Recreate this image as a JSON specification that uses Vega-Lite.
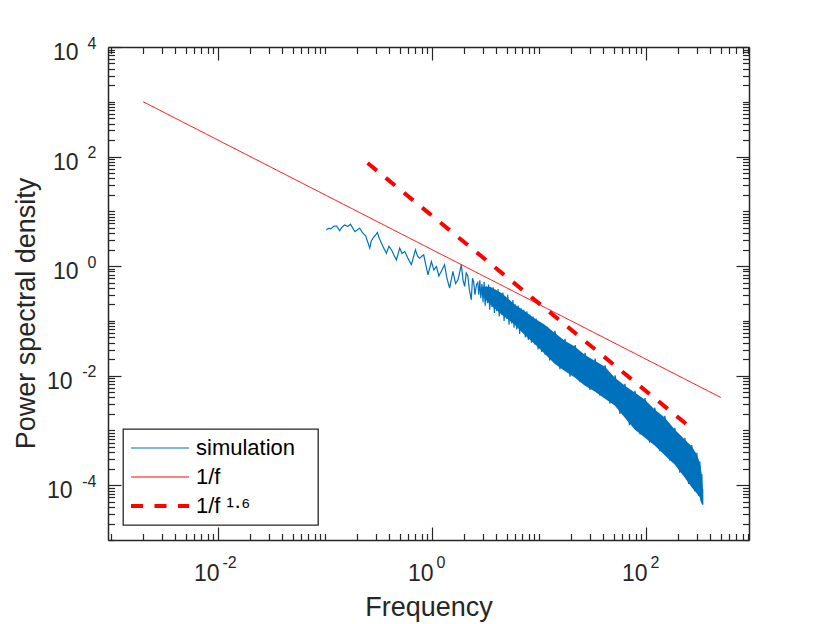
{
  "$schema": "https://vega.github.io/schema/vega-lite/v6.json",
  "width": 641,
  "height": 493,
  "autosize": {"type": "none"},
  "padding": {"left": 108, "top": 47, "right": 82, "bottom": 84},
  "background": "white",
  "config": {
    "view": {"stroke": null},
    "font": "Liberation Sans",
    "legend": {
      "orient": "bottom-left",
      "offset": 15,
      "padding": 6,
      "strokeColor": "#262626",
      "strokeWidth": 1.3,
      "fillColor": "white",
      "symbolType": "stroke",
      "symbolSize": 3364,
      "clipHeight": 26,
      "rowPadding": 3,
      "labelFont": "Liberation Sans",
      "labelFontSize": 22,
      "labelColor": "#000000",
      "labelOffset": 5,
      "labelLimit": 300
    }
  },
  "datasets": {
    "band": [
      {"f": 2.9, "lo": 0.30, "hi": 0.42},
      {"f": 3.5, "lo": 0.20, "hi": 0.42},
      {"f": 4.5, "lo": 0.13, "hi": 0.32},
      {"f": 5.93, "lo": 0.085, "hi": 0.20},
      {"f": 7.35, "lo": 0.055, "hi": 0.15},
      {"f": 9.12, "lo": 0.038, "hi": 0.11},
      {"f": 11.3, "lo": 0.0252, "hi": 0.0853},
      {"f": 14.0, "lo": 0.0165, "hi": 0.0610},
      {"f": 17.4, "lo": 0.0122, "hi": 0.0436},
      {"f": 21.6, "lo": 0.00924, "hi": 0.0339},
      {"f": 26.7, "lo": 0.00661, "hi": 0.0242},
      {"f": 33.2, "lo": 0.00513, "hi": 0.0188},
      {"f": 41.1, "lo": 0.00383, "hi": 0.0147},
      {"f": 51.0, "lo": 0.00285, "hi": 0.00923},
      {"f": 63.2, "lo": 0.00173, "hi": 0.00661},
      {"f": 78.4, "lo": 0.00104, "hi": 0.00492},
      {"f": 97.2, "lo": 0.000745, "hi": 0.00367},
      {"f": 120.5, "lo": 0.000533, "hi": 0.00241},
      {"f": 149.6, "lo": 0.000351, "hi": 0.00173},
      {"f": 185.4, "lo": 0.000240, "hi": 0.00104},
      {"f": 230, "lo": 0.000139, "hi": 0.000686},
      {"f": 267, "lo": 0.0000916, "hi": 0.000512},
      {"f": 298, "lo": 0.0000712, "hi": 0.000366},
      {"f": 318, "lo": 0.0000601, "hi": 0.000261},
      {"f": 332, "lo": 0.0000449, "hi": 0.000158},
      {"f": 339, "lo": 0.0000449, "hi": 0.0000841}
    ],
    "lines": [
      {"series": "simulation", "f": 0.103, "y": 4.58},
      {"series": "simulation", "f": 0.108, "y": 4.9},
      {"series": "simulation", "f": 0.113, "y": 4.78},
      {"series": "simulation", "f": 0.120, "y": 5.3},
      {"series": "simulation", "f": 0.128, "y": 5.42},
      {"series": "simulation", "f": 0.137, "y": 4.45},
      {"series": "simulation", "f": 0.145, "y": 5.2},
      {"series": "simulation", "f": 0.153, "y": 5.65},
      {"series": "simulation", "f": 0.163, "y": 5.3},
      {"series": "simulation", "f": 0.173, "y": 5.82},
      {"series": "simulation", "f": 0.181, "y": 5.0},
      {"series": "simulation", "f": 0.190, "y": 4.27},
      {"series": "simulation", "f": 0.211, "y": 4.92},
      {"series": "simulation", "f": 0.226, "y": 3.99},
      {"series": "simulation", "f": 0.240, "y": 3.56},
      {"series": "simulation", "f": 0.262, "y": 2.13},
      {"series": "simulation", "f": 0.271, "y": 2.9},
      {"series": "simulation", "f": 0.281, "y": 3.24},
      {"series": "simulation", "f": 0.309, "y": 4.09},
      {"series": "simulation", "f": 0.322, "y": 3.2},
      {"series": "simulation", "f": 0.337, "y": 2.62},
      {"series": "simulation", "f": 0.355, "y": 2.1},
      {"series": "simulation", "f": 0.375, "y": 1.72},
      {"series": "simulation", "f": 0.396, "y": 2.3},
      {"series": "simulation", "f": 0.418, "y": 1.98},
      {"series": "simulation", "f": 0.44, "y": 1.6},
      {"series": "simulation", "f": 0.465, "y": 1.30},
      {"series": "simulation", "f": 0.499, "y": 2.13},
      {"series": "simulation", "f": 0.525, "y": 1.7},
      {"series": "simulation", "f": 0.556, "y": 1.85},
      {"series": "simulation", "f": 0.593, "y": 1.42},
      {"series": "simulation", "f": 0.641, "y": 1.06},
      {"series": "simulation", "f": 0.700, "y": 1.98},
      {"series": "simulation", "f": 0.735, "y": 1.5},
      {"series": "simulation", "f": 0.767, "y": 1.40},
      {"series": "simulation", "f": 0.836, "y": 1.61},
      {"series": "simulation", "f": 0.875, "y": 1.05},
      {"series": "simulation", "f": 0.918, "y": 0.695},
      {"series": "simulation", "f": 0.987, "y": 1.21},
      {"series": "simulation", "f": 1.04, "y": 0.85},
      {"series": "simulation", "f": 1.10, "y": 0.98},
      {"series": "simulation", "f": 1.16, "y": 0.66},
      {"series": "simulation", "f": 1.22, "y": 0.80},
      {"series": "simulation", "f": 1.31, "y": 1.06},
      {"series": "simulation", "f": 1.38, "y": 0.6},
      {"series": "simulation", "f": 1.46, "y": 0.397},
      {"series": "simulation", "f": 1.57, "y": 0.80},
      {"series": "simulation", "f": 1.66, "y": 0.48},
      {"series": "simulation", "f": 1.75, "y": 0.562},
      {"series": "simulation", "f": 1.88, "y": 1.06},
      {"series": "simulation", "f": 1.95, "y": 0.55},
      {"series": "simulation", "f": 2.02, "y": 0.425},
      {"series": "simulation", "f": 2.09, "y": 0.75},
      {"series": "simulation", "f": 2.16, "y": 0.666},
      {"series": "simulation", "f": 2.24, "y": 0.36},
      {"series": "simulation", "f": 2.33, "y": 0.243},
      {"series": "simulation", "f": 2.39, "y": 0.6},
      {"series": "simulation", "f": 2.45, "y": 0.518},
      {"series": "simulation", "f": 2.52, "y": 0.3},
      {"series": "simulation", "f": 2.60, "y": 0.456},
      {"series": "simulation", "f": 2.68, "y": 0.50},
      {"series": "simulation", "f": 2.74, "y": 0.30},
      {"series": "simulation", "f": 2.80, "y": 0.55},
      {"series": "simulation", "f": 2.86, "y": 0.26},
      {"series": "simulation", "f": 2.93, "y": 0.47},
      {"series": "simulation", "f": 3.0, "y": 0.22},
      {"series": "simulation", "f": 3.07, "y": 0.52},
      {"series": "simulation", "f": 3.14, "y": 0.19},
      {"series": "simulation", "f": 3.22, "y": 0.43},
      {"series": "simulation", "f": 3.30, "y": 0.21},
      {"series": "simulation", "f": 3.38, "y": 0.46},
      {"series": "simulation", "f": 3.46, "y": 0.16},
      {"series": "simulation", "f": 3.55, "y": 0.39},
      {"series": "simulation", "f": 3.64, "y": 0.18},
      {"series": "simulation", "f": 3.73, "y": 0.41},
      {"series": "simulation", "f": 3.83, "y": 0.14},
      {"series": "simulation", "f": 3.93, "y": 0.36},
      {"series": "simulation", "f": 4.03, "y": 0.15},
      {"series": "simulation", "f": 4.14, "y": 0.38},
      {"series": "simulation", "f": 4.25, "y": 0.12},
      {"series": "simulation", "f": 4.36, "y": 0.31},
      {"series": "simulation", "f": 4.48, "y": 0.13},
      {"series": "simulation", "f": 4.60, "y": 0.33},
      {"series": "simulation", "f": 4.72, "y": 0.10},
      {"series": "simulation", "f": 4.85, "y": 0.27},
      {"series": "simulation", "f": 4.98, "y": 0.11},
      {"series": "simulation", "f": 5.11, "y": 0.30},
      {"series": "simulation", "f": 5.25, "y": 0.085},
      {"series": "simulation", "f": 5.4, "y": 0.22},
      {"series": "simulation", "f": 5.55, "y": 0.09},
      {"series": "simulation", "f": 5.7, "y": 0.24},
      {"series": "simulation", "f": 5.85, "y": 0.075},
      {"series": "simulation", "f": 6.0, "y": 0.20},
      {"series": "simulation", "f": 6.2, "y": 0.07},
      {"series": "simulation", "f": 6.4, "y": 0.19},
      {"series": "simulation", "f": 6.6, "y": 0.058},
      {"series": "simulation", "f": 6.8, "y": 0.17},
      {"series": "simulation", "f": 7.0, "y": 0.062},
      {"series": "simulation", "f": 7.2, "y": 0.16},
      {"series": "simulation", "f": 7.45, "y": 0.05},
      {"series": "simulation", "f": 7.7, "y": 0.15},
      {"series": "simulation", "f": 7.95, "y": 0.045},
      {"series": "simulation", "f": 8.2, "y": 0.13},
      {"series": "simulation", "f": 8.5, "y": 0.04},
      {"series": "simulation", "f": 8.8, "y": 0.12},
      {"series": "simulation", "f": 9.1, "y": 0.037},
      {"series": "simulation", "f": 9.4, "y": 0.11},
      {"series": "simulation", "f": 9.8, "y": 0.03},
      {"series": "simulation", "f": 10.2, "y": 0.095},
      {"series": "simulation", "f": 10.6, "y": 0.027},
      {"series": "simulation", "f": 11.0, "y": 0.088},
      {"series": "simulation", "f": 11.4, "y": 0.024},
      {"series": "simulation", "f": 12.0, "y": 0.078},
      {"series": "simulation", "f": 12.6, "y": 0.019},
      {"series": "simulation", "f": 14.1, "y": 0.066},
      {"series": "simulation", "f": 15.7, "y": 0.0132},
      {"series": "simulation", "f": 17.5, "y": 0.047},
      {"series": "simulation", "f": 19.5, "y": 0.0096},
      {"series": "simulation", "f": 21.8, "y": 0.036},
      {"series": "simulation", "f": 24.2, "y": 0.0076},
      {"series": "simulation", "f": 27, "y": 0.026},
      {"series": "simulation", "f": 30, "y": 0.0055},
      {"series": "simulation", "f": 33.5, "y": 0.0205},
      {"series": "simulation", "f": 37, "y": 0.0043},
      {"series": "simulation", "f": 41.5, "y": 0.0155},
      {"series": "simulation", "f": 46, "y": 0.0031},
      {"series": "simulation", "f": 51.5, "y": 0.0101},
      {"series": "simulation", "f": 57, "y": 0.0020},
      {"series": "simulation", "f": 63.5, "y": 0.0071},
      {"series": "simulation", "f": 70, "y": 0.00125},
      {"series": "simulation", "f": 79, "y": 0.0053},
      {"series": "simulation", "f": 88, "y": 0.00085},
      {"series": "simulation", "f": 98, "y": 0.0039},
      {"series": "simulation", "f": 108, "y": 0.0006},
      {"series": "simulation", "f": 121, "y": 0.0026},
      {"series": "simulation", "f": 135, "y": 0.00042},
      {"series": "simulation", "f": 150, "y": 0.00185},
      {"series": "simulation", "f": 167, "y": 0.00028},
      {"series": "simulation", "f": 186, "y": 0.00112},
      {"series": "simulation", "f": 207, "y": 0.00017},
      {"series": "simulation", "f": 231, "y": 0.00073},
      {"series": "simulation", "f": 250, "y": 0.000105},
      {"series": "simulation", "f": 268, "y": 0.00054},
      {"series": "simulation", "f": 285, "y": 0.000078},
      {"series": "simulation", "f": 299, "y": 0.00039},
      {"series": "simulation", "f": 310, "y": 0.000064},
      {"series": "simulation", "f": 319, "y": 0.00027},
      {"series": "simulation", "f": 328, "y": 0.000050},
      {"series": "simulation", "f": 333, "y": 0.00016},
      {"series": "simulation", "f": 337, "y": 0.000046},
      {"series": "simulation", "f": 339, "y": 0.000085},
      {"series": "simulation", "f": 339.5, "y": 0.000044},
      {"series": "1/f", "f": 0.002, "y": 1000},
      {"series": "1/f", "f": 500, "y": 0.004},
      {"series": "1/f ¹·⁶", "f": 0.25, "y": 76.3},
      {"series": "1/f ¹·⁶", "f": 238, "y": 0.001307}
    ]
  },
  "layer": [
    {
      "data": {"name": "band"},
      "mark": {"type": "area", "color": "#0072BD", "opacity": 1},
      "encoding": {
        "x": {
          "field": "f",
          "type": "quantitative",
          "scale": {"type": "log", "domain": [0.000937, 918], "nice": false},
          "axis": {
            "orient": "bottom",
            "values": [0.001, 0.002, 0.003, 0.004, 0.005, 0.006, 0.007, 0.008, 0.009, 0.01, 0.02, 0.03, 0.04, 0.05, 0.06, 0.07, 0.08, 0.09, 0.1, 0.2, 0.3, 0.4, 0.5, 0.6, 0.7, 0.8, 0.9, 1, 2, 3, 4, 5, 6, 7, 8, 9, 10, 20, 30, 40, 50, 60, 70, 80, 90, 100, 200, 300, 400, 500, 600, 700, 800, 900],
            "labelExpr": "abs(datum.value / 0.01 - 1) < 1e-6 || abs(datum.value - 1) < 1e-6 || abs(datum.value / 100 - 1) < 1e-6 ? '10' : ''",
            "labelFont": "Liberation Sans",
            "labelFontSize": 23,
            "labelColor": "#262626",
            "labelAlign": "right",
            "labelOffset": 1,
            "labelBaseline": "alphabetic",
            "labelPadding": 53,
            "labelOverlap": false,
            "labelFlush": false,
            "labelBound": false,
            "tickSize": {"condition": {"test": "abs(log(datum.value) / LN10 - round(log(datum.value) / LN10)) < 0.001 && abs(round(log(datum.value) / LN10)) % 2 == 0", "value": -13}, "value": -6.5},
            "tickColor": "#262626",
            "tickWidth": 1.2,
            "domainColor": "#262626",
            "domainWidth": 1.5,
            "grid": false,
            "title": "Frequency",
            "titleFont": "Liberation Sans",
            "titleFontSize": 27,
            "titleFontWeight": "normal",
            "titleColor": "#262626",
            "titleBaseline": "alphabetic",
            "titleY": 75
          }
        },
        "y": {
          "field": "lo",
          "type": "quantitative",
          "scale": {"type": "log", "domain": [0.00001, 10000], "nice": false},
          "axis": {
            "orient": "left",
            "values": [0.00001, 0.00002, 0.00003, 0.00004, 0.00005, 0.00006, 0.00007, 0.00008, 0.00009, 0.0001, 0.0002, 0.0003, 0.0004, 0.0005, 0.0006, 0.0007, 0.0008, 0.0009, 0.001, 0.002, 0.003, 0.004, 0.005, 0.006, 0.007, 0.008, 0.009, 0.01, 0.02, 0.03, 0.04, 0.05, 0.06, 0.07, 0.08, 0.09, 0.1, 0.2, 0.3, 0.4, 0.5, 0.6, 0.7, 0.8, 0.9, 1, 2, 3, 4, 5, 6, 7, 8, 9, 10, 20, 30, 40, 50, 60, 70, 80, 90, 100, 200, 300, 400, 500, 600, 700, 800, 900, 1000, 2000, 3000, 4000, 5000, 6000, 7000, 8000, 9000, 10000],
            "labelExpr": "abs(datum.value / 0.0001 - 1) < 1e-6 || abs(datum.value / 0.01 - 1) < 1e-6 || abs(datum.value - 1) < 1e-6 || abs(datum.value / 100 - 1) < 1e-6 || abs(datum.value / 10000 - 1) < 1e-6 ? '10' : ''",
            "labelFont": "Liberation Sans",
            "labelFontSize": 23,
            "labelColor": "#262626",
            "labelAlign": "right",
            "labelBaseline": "alphabetic",
            "labelOffset": 12.5,
            "labelPadding": {"condition": {"test": "datum.value < 0.5", "value": 49}, "value": 43},
            "labelOverlap": false,
            "labelFlush": false,
            "labelBound": false,
            "tickSize": {"condition": {"test": "abs(log(datum.value) / LN10 - round(log(datum.value) / LN10)) < 0.001 && abs(round(log(datum.value) / LN10)) % 2 == 0", "value": -13}, "value": -6.5},
            "tickColor": "#262626",
            "tickWidth": 1.2,
            "domainColor": "#262626",
            "domainWidth": 1.5,
            "grid": false,
            "title": "Power spectral density",
            "titleFont": "Liberation Sans",
            "titleFontSize": 27,
            "titleFontWeight": "normal",
            "titleColor": "#262626",
            "titleX": -68,
            "titleY": 266
          }
        },
        "y2": {"field": "hi"}
      }
    },
    {
      "data": {"name": "band"},
      "mark": {"type": "point", "opacity": 0},
      "encoding": {
        "x": {
          "field": "f",
          "type": "quantitative",
          "scale": {"type": "log", "domain": [0.000937, 918], "nice": false},
          "axis": {
            "orient": "bottom",
            "values": [0.01, 1, 100],
            "labelExpr": "abs(datum.value / 0.01 - 1) < 1e-6 ? '-2' : abs(datum.value - 1) < 1e-6 ? '0' : '2'",
            "labelFont": "Liberation Sans",
            "labelFontSize": 16,
            "labelColor": "#262626",
            "labelAlign": "left",
            "labelOffset": 4,
            "labelBaseline": "alphabetic",
            "labelPadding": 27,
            "labelOverlap": false,
            "labelFlush": false,
            "labelBound": false,
            "ticks": false,
            "domain": false,
            "grid": false,
            "title": null
          }
        },
        "y": {
          "field": "hi",
          "type": "quantitative",
          "scale": {"type": "log", "domain": [0.00001, 10000], "nice": false},
          "axis": {
            "orient": "left",
            "values": [0.0001, 0.01, 1, 100, 10000],
            "labelExpr": "abs(datum.value / 0.0001 - 1) < 1e-6 ? '-4' : abs(datum.value / 0.01 - 1) < 1e-6 ? '-2' : abs(datum.value - 1) < 1e-6 ? '0' : abs(datum.value / 100 - 1) < 1e-6 ? '2' : '4'",
            "labelFont": "Liberation Sans",
            "labelFontSize": 16,
            "labelColor": "#262626",
            "labelAlign": "right",
            "labelBaseline": "alphabetic",
            "labelOffset": 1,
            "labelPadding": 12,
            "labelOverlap": false,
            "labelFlush": false,
            "labelBound": false,
            "ticks": false,
            "domain": false,
            "grid": false,
            "title": null
          }
        }
      }
    },
    {
      "data": {"name": "lines"},
      "mark": {"type": "line", "clip": true},
      "encoding": {
        "x": {
          "field": "f",
          "type": "quantitative",
          "scale": {"type": "log", "domain": [0.000937, 918], "nice": false},
          "axis": {
            "orient": "top",
            "values": [0.001, 0.002, 0.003, 0.004, 0.005, 0.006, 0.007, 0.008, 0.009, 0.01, 0.02, 0.03, 0.04, 0.05, 0.06, 0.07, 0.08, 0.09, 0.1, 0.2, 0.3, 0.4, 0.5, 0.6, 0.7, 0.8, 0.9, 1, 2, 3, 4, 5, 6, 7, 8, 9, 10, 20, 30, 40, 50, 60, 70, 80, 90, 100, 200, 300, 400, 500, 600, 700, 800, 900],
            "labels": false,
            "tickSize": {"condition": {"test": "abs(log(datum.value) / LN10 - round(log(datum.value) / LN10)) < 0.001 && abs(round(log(datum.value) / LN10)) % 2 == 0", "value": -13}, "value": -6.5},
            "tickColor": "#262626",
            "tickWidth": 1.2,
            "domainColor": "#262626",
            "domainWidth": 1.5,
            "grid": false,
            "title": null
          }
        },
        "y": {
          "field": "y",
          "type": "quantitative",
          "scale": {"type": "log", "domain": [0.00001, 10000], "nice": false},
          "axis": {
            "orient": "right",
            "values": [0.00001, 0.00002, 0.00003, 0.00004, 0.00005, 0.00006, 0.00007, 0.00008, 0.00009, 0.0001, 0.0002, 0.0003, 0.0004, 0.0005, 0.0006, 0.0007, 0.0008, 0.0009, 0.001, 0.002, 0.003, 0.004, 0.005, 0.006, 0.007, 0.008, 0.009, 0.01, 0.02, 0.03, 0.04, 0.05, 0.06, 0.07, 0.08, 0.09, 0.1, 0.2, 0.3, 0.4, 0.5, 0.6, 0.7, 0.8, 0.9, 1, 2, 3, 4, 5, 6, 7, 8, 9, 10, 20, 30, 40, 50, 60, 70, 80, 90, 100, 200, 300, 400, 500, 600, 700, 800, 900, 1000, 2000, 3000, 4000, 5000, 6000, 7000, 8000, 9000, 10000],
            "labels": false,
            "tickSize": {"condition": {"test": "abs(log(datum.value) / LN10 - round(log(datum.value) / LN10)) < 0.001 && abs(round(log(datum.value) / LN10)) % 2 == 0", "value": -13}, "value": -6.5},
            "tickColor": "#262626",
            "tickWidth": 1.2,
            "domainColor": "#262626",
            "domainWidth": 1.5,
            "grid": false,
            "title": null
          }
        },
        "color": {
          "field": "series",
          "type": "nominal",
          "scale": {"domain": ["simulation", "1/f", "1/f ¹·⁶"], "range": ["#0072BD", "#FF0000", "#FF0000"]},
          "legend": {"title": null, "labelExpr": "datum.label + '\u2800'"}
        },
        "strokeDash": {
          "field": "series",
          "type": "nominal",
          "scale": {"domain": ["simulation", "1/f", "1/f ¹·⁶"], "range": [[1, 0], [1, 0], [12, 11.5]]},
          "legend": {"title": null, "labelExpr": "datum.label + '\u2800'"}
        },
        "strokeWidth": {
          "field": "series",
          "type": "ordinal",
          "scale": {"type": "ordinal", "domain": ["simulation", "1/f", "1/f ¹·⁶"], "range": [1.2, 1, 4]},
          "legend": {"title": null, "labelExpr": "datum.label + '\u2800'"}
        }
      }
    }
  ],
  "resolve": {"axis": {"x": "independent", "y": "independent"}}
}
